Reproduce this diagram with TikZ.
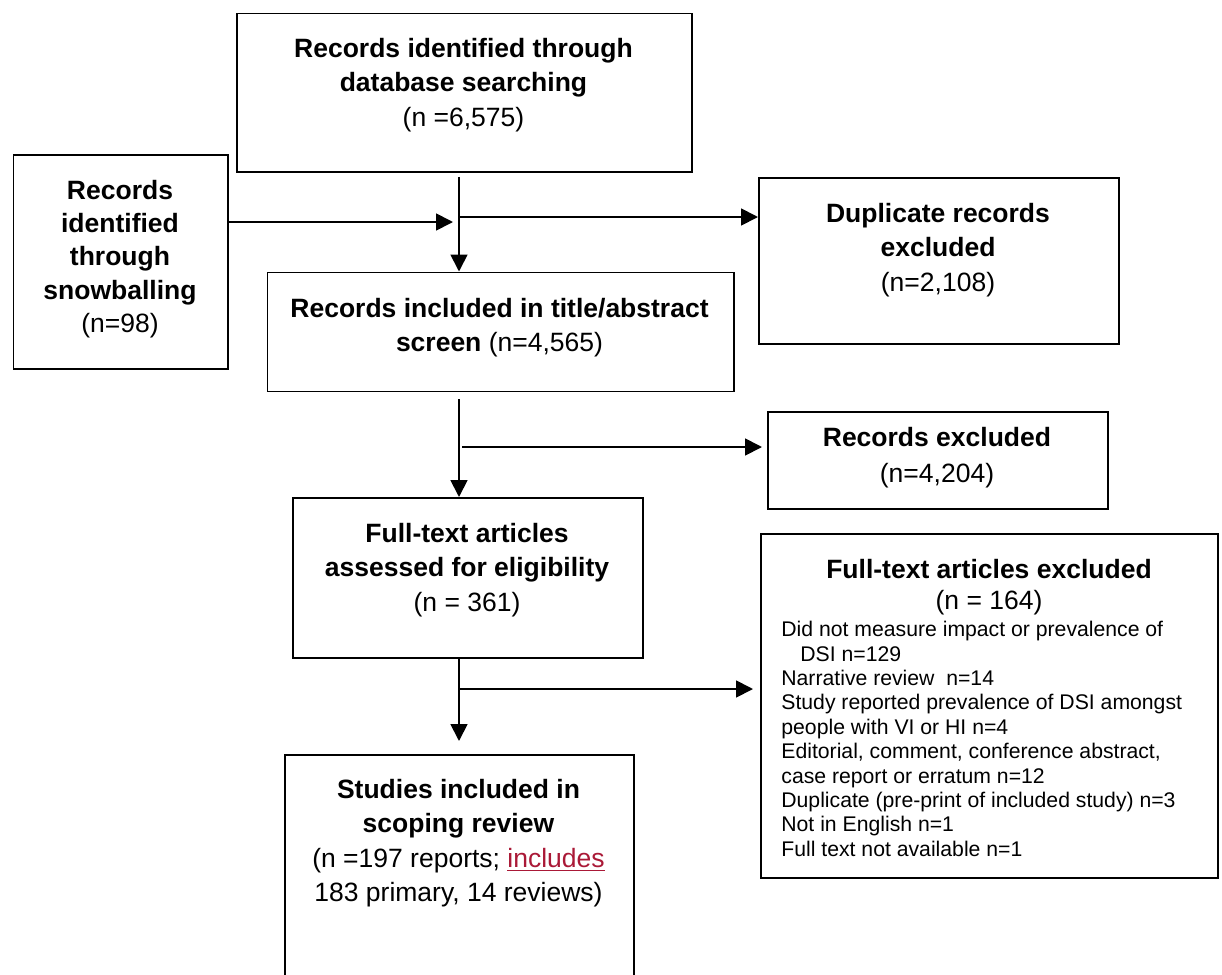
\documentclass[tikz,border=0pt]{standalone}
\usepackage{fontspec}
\setmainfont{Liberation Sans}
\usetikzlibrary{arrows.meta}
\definecolor{incl}{RGB}{170,25,55}
\begin{document}
\begin{tikzpicture}[x=0.5pt,y=-0.5pt,
  box/.style={draw, line width=0.95pt, rectangle, anchor=north west, inner sep=0pt},
  txt/.style={align=center, inner sep=0pt, font=\fontsize{13.25pt}{17.2pt}\selectfont},
  arr/.style={line width=0.9pt, -{Triangle[length=8.5pt,width=8.5pt]}}]
\useasboundingbox (0,0) rectangle (1222,975);
\clip (0,0) rectangle (1222,975);

% boxes
\node[box, minimum width=227.5pt, minimum height=79.25pt] (A) at (236,12.5) {};
\node[box, minimum width=107.25pt, minimum height=107pt] (B) at (12.5,154) {};
\node[box, minimum width=233.25pt, minimum height=59.5pt] (C) at (266.5,271.5) {};
\node[box, minimum width=180pt, minimum height=83pt] (D) at (758,177) {};
\node[box, minimum width=170pt, minimum height=48.5pt] (F) at (767,411) {};
\node[box, minimum width=175pt, minimum height=80pt] (E) at (292,497) {};
\node[box, minimum width=228.5pt, minimum height=172pt] (H) at (760,533) {};
\node[box, minimum width=174.5pt, minimum height=140pt] (G) at (284,754) {};

% texts
\node[txt] (At) at (463.5,85) {\textbf{Records identified through}\\\textbf{database searching}\\(n =6,575)};
\node[txt, font=\fontsize{13.25pt}{16.6pt}\selectfont] (Bt) at (120,259) {\textbf{Records}\\\textbf{identified}\\\textbf{through}\\\textbf{snowballing}\\(n=98)};
\node[txt] (Ct) at (499.5,327.5) {\textbf{Records included in title/abstract}\\\textbf{screen} (n=4,565)};
\node[txt] (Dt) at (938,250) {\textbf{Duplicate records}\\\textbf{excluded}\\(n=2,108)};
\node[txt, font=\fontsize{13.25pt}{18pt}\selectfont] (Ft) at (937,457.5) {\textbf{Records excluded}\\(n=4,204)};
\node[txt] (Et) at (467,570) {\textbf{Full-text articles}\\\textbf{assessed for eligibility}\\(n = 361)};
\node[txt] (Gt) at (458.5,843) {\textbf{Studies included in}\\\textbf{scoping review}\\(n =197 reports; \textcolor{incl}{\underline{includes}}\\183 primary, 14 reviews)};
\node[txt, font=\fontsize{13.25pt}{15.5pt}\selectfont] (Ht) at (989,587) {\textbf{Full-text articles excluded}\\(n = 164)};
\node[align=left, inner sep=0pt, anchor=west, font=\fontsize{10.6pt}{12.2pt}\selectfont] (Hl) at (781,739) {Did not measure impact or prevalence of\\
\hspace*{9.5pt}DSI n=129\\
Narrative review\ \ n=14\\
Study reported prevalence of DSI amongst\\
people with VI or HI n=4\\
Editorial, comment, conference abstract,\\
case report or erratum n=12\\
Duplicate (pre-print of included study) n=3\\
Not in English n=1\\
Full text not available n=1};

% connectors
\coordinate (j1) at (459,222);
\coordinate (j2) at (459,217);
\coordinate (j3) at (462,447);
\coordinate (j4) at (459,689);
\draw[arr, shorten <=2pt] (A.south -| j1) -- (C.north -| j1);
\draw[arr, shorten >=3pt] (B.east |- j1) -- (j1);
\draw[arr] (j2) -- (D.west |- j2);
\draw[arr, shorten <=3.5pt] (C.south -| j1) -- (E.north -| j1);
\draw[arr, shorten >=2.5pt] (j3) -- (F.west |- j3);
\draw[arr, shorten >=6.5pt] (E.south -| j4) -- (G.north -| j4);
\draw[arr, shorten >=3.5pt] (j4) -- (H.west |- j4);
\end{tikzpicture}
\end{document}
